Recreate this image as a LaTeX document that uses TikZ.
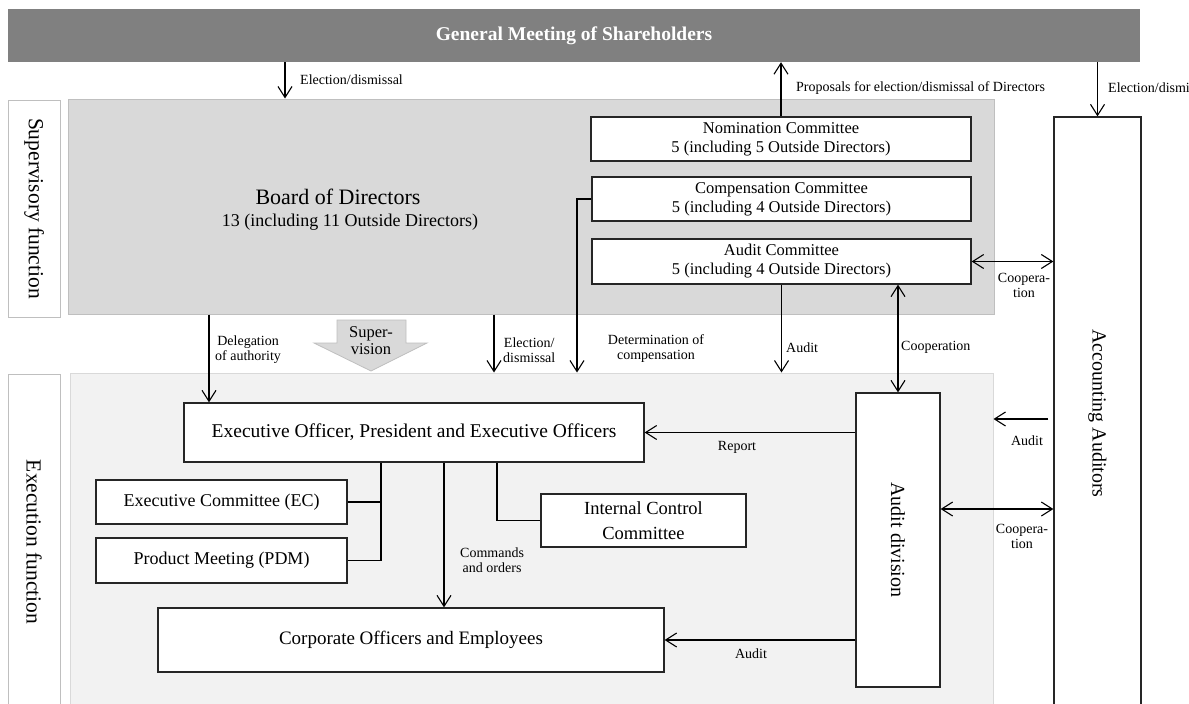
\documentclass[tikz,border=0pt]{standalone}
\usepackage{fontspec}
\setmainfont{Liberation Serif}
\usetikzlibrary{arrows.meta}
\begin{document}
\begin{tikzpicture}[x=10pt,y=-10pt,
  >={Straight Barb[length=11pt,width=14pt]},
  box/.style={draw=black!85,line width=1.3pt,fill=white,inner sep=0pt,align=center},
  side/.style={draw=black!25,line width=1pt,fill=white,inner sep=0pt,rotate=-90,font=\fontsize{21.5}{25}\selectfont},
  lbl/.style={inner sep=0pt,align=center,font=\fontsize{14}{15}\selectfont},
  con/.style={line width=1.1pt}]
  \useasboundingbox (0,0) rectangle (118.9,70.4);
  \node[fill=black!50,minimum width=1132pt,minimum height=53pt,inner sep=0pt,text=white,font=\bfseries\fontsize{19.5}{22}\selectfont] (gms) at (57.4,3.55) {General Meeting of Shareholders};
  \node[side,minimum width=217pt,minimum height=52pt] (supfn) at (3.4,20.85) {Supervisory function};
  \node[side,minimum width=336pt,minimum height=52pt] (exefn) at (3.4,54.2) {Execution function};
  \node[draw=black!25,line width=1pt,fill=black!15,minimum width=926pt,minimum height=215pt] (board) at (53.1,20.65) {};
  \node[draw=black!15,line width=1pt,fill=black!5,minimum width=923pt,minimum height=337pt] (exarea) at (53.15,54.15) {};
  \node[font=\fontsize{22}{26}\selectfont] (bdtitle) at (33.8,19.7) {Board of Directors};
  \node[font=\fontsize{18}{22}\selectfont] (bdsub) at (35.0,22.2) {13 (including 11 Outside Directors)};
  \node[box,minimum width=380pt,minimum height=44pt,font=\fontsize{16.5}{19}\selectfont] (nom) at (78.1,13.9) {Nomination Committee\\5 (including 5 Outside Directors)};
  \node[box,minimum width=379pt,minimum height=44pt,font=\fontsize{16.5}{19}\selectfont] (comp) at (78.15,19.9) {Compensation Committee\\5 (including 4 Outside Directors)};
  \node[box,minimum width=379pt,minimum height=45pt,font=\fontsize{16.5}{19}\selectfont] (audc) at (78.15,26.15) {Audit Committee\\5 (including 4 Outside Directors)};
  \node[box,rotate=-90,minimum width=593pt,minimum height=87pt,font=\fontsize{20}{24}\selectfont] (acc) at (109.75,41.35) {Accounting Auditors};
  \node[box,minimum width=460pt,minimum height=59pt,font=\fontsize{19.5}{23}\selectfont] (exec) at (41.4,43.25) {Executive Officer, President and Executive Officers};
  \node[box,rotate=-90,minimum width=294pt,minimum height=84pt,font=\fontsize{20}{24}\selectfont] (auddiv) at (89.8,54.0) {Audit division};
  \node[box,minimum width=251pt,minimum height=44pt,font=\fontsize{18}{21}\selectfont] (ec) at (22.15,50.2) {Executive Committee (EC)};
  \node[box,minimum width=251pt,minimum height=45pt,font=\fontsize{18}{21}\selectfont] (pdm) at (22.15,56.05) {Product Meeting (PDM)};
  \node[box,minimum width=205pt,minimum height=53pt,font=\fontsize{18.5}{25}\selectfont] (icc) at (64.35,52.05) {Internal Control\\Committee};
  \node[box,minimum width=506pt,minimum height=64pt,font=\fontsize{19}{22}\selectfont] (corp) at (41.1,64.0) {Corporate Officers and Employees};
  \draw[draw=black!25,fill=black!15,line width=.8pt] (33.7,32) -- (40.6,32) -- (40.6,34.3) -- (42.7,34.3) -- (37.1,37.1) -- (31.4,34.3) -- (33.7,34.3) -- cycle;
  \node[inner sep=0pt,align=center,font=\fontsize{16.5}{17}\selectfont] (supv) at (37.1,34.05) {Super-\\vision};
  \coordinate (e1) at (28.5,0);
  \coordinate (dl) at (20.9,0);
  \coordinate (el) at (49.4,0);
  \coordinate (dt) at (57.7,0);
  \coordinate (ek) at (38.1,0);
  \coordinate (cm) at (44.4,0);
  \coordinate (ic) at (49.7,0);
  \coordinate (aa) at (0,41.9);
  \coordinate (cp) at (0,50.9);
  \draw[con,->] (gms.south -| e1) -- (board.north -| e1);
  \draw[con,->] (nom.north) -- (gms.south -| nom.north);
  \draw[con,->] (gms.south -| acc.west) -- (acc.west);
  \draw[con,<->] (audc.east) -- (acc.south |- audc.east);
  \draw[con,->] (board.south -| dl) -- (exec.north -| dl);
  \draw[con,->] (board.south -| el) -- (exarea.north -| el);
  \draw[con,->] (comp.west) -| (exarea.north -| dt);
  \draw[con,->] (audc.south) -- (exarea.north -| audc.south);
  \draw[con,<->] (audc.south -| auddiv.west) -- (auddiv.west);
  \draw[con,->] (auddiv.south |- exec.east) -- (exec.east);
  \draw[con,->,shorten <=5pt] (acc.south |- aa) -- (exarea.east |- aa);
  \draw[con,<->] (auddiv.north |- cp) -- (acc.south |- cp);
  \draw[con,->] (auddiv.south |- corp.east) -- (corp.east);
  \draw[con] (exec.south -| ek) -- (pdm.east -| ek) -- (pdm.east);
  \draw[con] (ec.east) -- (ec.east -| ek);
  \draw[con,->] (exec.south -| cm) -- (corp.north -| cm);
  \draw[con] (exec.south -| ic) |- (icc.west);
  \node[lbl,anchor=west] (l1) at (30.0,8.0) {Election/dismissal};
  \node[lbl,anchor=west] (l2) at (79.6,8.8) {Proposals for election/dismissal of Directors};
  \node[lbl,anchor=west] (l3) at (110.8,8.8) {Election/dismissal};
  \node[lbl] (l4) at (102.4,28.5) {Coopera-\\tion};
  \node[lbl,anchor=west] (l5) at (21.5,35.0) {Delegation\\of authority};
  \node[lbl,anchor=west] (l6) at (50.3,35.0) {Election/\\dismissal};
  \node[lbl] (l7) at (65.6,34.9) {Determination of\\compensation};
  \node[lbl,anchor=west] (l8) at (78.6,34.8) {Audit};
  \node[lbl,anchor=west] (l9) at (90.1,34.7) {Cooperation};
  \node[lbl] (l10) at (73.7,44.7) {Report};
  \node[lbl] (l11) at (102.7,44.1) {Audit};
  \node[lbl] (l12) at (102.2,53.6) {Coopera-\\tion};
  \node[lbl,anchor=west] (l13) at (46.0,56.0) {Commands\\and orders};
  \node[lbl] (l14) at (75.1,65.4) {Audit};
\end{tikzpicture}
\end{document}
